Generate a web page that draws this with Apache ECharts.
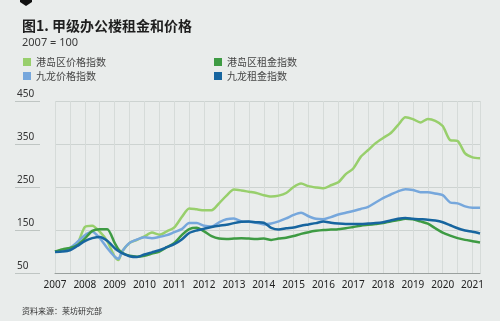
<!DOCTYPE html>
<html>
<head>
<meta charset="utf-8">
<script src="https://cdn.jsdelivr.net/npm/echarts@6/dist/echarts.min.js"></script>
<style>
html,body{margin:0;padding:0;background:#e9eceb;}
#c{width:500px;height:321px;}
</style>
</head>
<body>
<div id="c"></div>
<script>
// Time points (years, quarterly, with one extra point at the 2009 trough)
var years = [
  2007, 2007.25, 2007.5, 2007.75,
  2008, 2008.25, 2008.5, 2008.75,
  2009, 2009.125, 2009.25, 2009.5, 2009.75,
  2010, 2010.25, 2010.5, 2010.75,
  2011, 2011.25, 2011.5, 2011.75,
  2012, 2012.25, 2012.5, 2012.75,
  2013, 2013.25, 2013.5, 2013.75,
  2014, 2014.25, 2014.5, 2014.75,
  2015, 2015.25, 2015.5, 2015.75,
  2016, 2016.25, 2016.5, 2016.75,
  2017, 2017.25, 2017.5, 2017.75,
  2018, 2018.25, 2018.5, 2018.75,
  2019, 2019.25, 2019.5, 2019.75,
  2020, 2020.25, 2020.5, 2020.75,
  2021, 2021.25
];
// 港岛区价格指数
var hkPrice = [
  100, 105, 108, 118,
  157, 160, 146, 124,
  88, 80, 100, 120, 127,
  135, 144, 139, 147,
  156, 180, 200, 198,
  196, 196, 212, 230,
  244, 242, 239, 236,
  231, 228, 230, 236,
  250, 258, 252, 249,
  247, 254, 261, 280,
  293, 320, 336, 352,
  364, 375, 394, 412,
  408, 400, 408, 404,
  392, 359, 357, 328,
  319, 317
];
// 九龙价格指数
var klnPrice = [
  100, 102, 108, 122,
  138, 146, 131, 108,
  88, 83, 100, 120, 128,
  133, 131, 134, 138,
  145, 152, 166, 166,
  160, 158, 168, 175,
  177, 170, 169, 167,
  163, 165, 170, 177,
  185, 190, 182, 176,
  175, 180, 186, 190,
  194, 199, 204, 214,
  224, 232, 240, 245,
  243, 238, 238, 235,
  231, 214, 212, 205,
  202, 202
];
// 港岛区租金指数
var hkRent = [
  100, 105, 108, 115,
  130, 148, 152, 152,
  120, 105, 97, 90, 88,
  90, 95, 100, 110,
  120, 138, 152, 155,
  147, 136, 130, 129,
  130, 131, 130, 129,
  130, 127, 130, 132,
  136, 141, 145, 148,
  150, 151, 152, 154,
  157, 160, 162, 164,
  166, 170, 173, 176,
  175, 170, 165, 154,
  144, 137, 131, 127,
  124, 121
];
// 九龙租金指数
var klnRent = [
  99, 100, 103, 113,
  124, 131, 134, 125,
  108, 101, 96, 89, 87,
  93, 98, 103, 110,
  117, 128, 143, 149,
  153, 157, 160, 162,
  166, 169, 170, 168,
  167, 155, 151, 154,
  156, 160, 163, 166,
  170, 167, 165, 164,
  164, 164, 165, 166,
  168, 172, 176, 178,
  176, 175, 174, 172,
  168, 161, 154, 149,
  146, 142
];
var seriesNames = ['港岛区价格指数', '九龙价格指数', '港岛区租金指数', '九龙租金指数'];
var seriesColors = ['#98cf6c', '#76a7dc', '#3e9b43', '#17659f'];
var yTicks = { min: 50, max: 450, step: 100 };
var xRange = { min: 2007, max: 2021.25 };

function pairs(vals) {
  return years.map(function (y, i) { return [y, vals[i]]; });
}
var allVals = [hkPrice, klnPrice, hkRent, klnRent];

var chart = echarts.init(document.getElementById('c'), null, { renderer: 'canvas' });
var font = '"Noto Sans", "Noto Sans CJK SC", sans-serif';
var cjk = '"Noto Sans CJK SC", sans-serif';
var option = {
  backgroundColor: '#e9eceb',
  animation: false,
  textStyle: { fontFamily: font },
  title: [
    { text: '图1. 甲级办公楼租金和价格', left: 17, top: 14,
      textStyle: { fontSize: 14, fontWeight: 'bold', color: '#1e1e1e', fontFamily: cjk } },
    { text: '2007 = 100', left: 17, top: 32,
      textStyle: { fontSize: 11, fontWeight: 'normal', color: '#3a3a3a', fontFamily: font } },
    { text: '资料来源：莱坊研究部', left: 17, top: 302,
      textStyle: { fontSize: 8, fontWeight: 'normal', color: '#333', fontFamily: cjk } }
  ],
  legend: [
    { data: [seriesNames[0], seriesNames[1]], orient: 'vertical', left: 18, top: 51,
      icon: 'rect', itemWidth: 8, itemHeight: 8, itemGap: 2,
      textStyle: { fontSize: 10, color: '#444', lineHeight: 12, fontFamily: cjk } },
    { data: [seriesNames[2], seriesNames[3]], orient: 'vertical', left: 209, top: 51,
      icon: 'rect', itemWidth: 8, itemHeight: 8, itemGap: 2,
      textStyle: { fontSize: 10, color: '#444', lineHeight: 12, fontFamily: cjk } }
  ],
  graphic: [
    { type: 'polygon', shape: { points: [[20, 0], [32, 0], [32, 2], [26, 6], [20, 2]] },
      style: { fill: '#111' } }
  ],
  grid: [
    { left: 55, right: 20, top: 101, bottom: 48 },
    { left: 15, width: 25, top: 101, bottom: 48 }
  ],
  xAxis: [
    { type: 'value', gridIndex: 0, min: xRange.min, max: xRange.max, interval: 0.5,
      axisLine: { show: true, lineStyle: { color: '#9aa09e', width: 1 } },
      axisTick: { show: false },
      splitLine: { show: true, lineStyle: { color: '#d6dbd9', width: 1 } },
      axisLabel: { show: true, margin: 7, fontSize: 10, color: '#222', fontFamily: font,
        formatter: function (v) { return Math.abs(v - Math.round(v)) < 1e-6 ? String(Math.round(v)) : ''; } } },
    { type: 'value', gridIndex: 1, min: 0, max: 1, show: false }
  ],
  yAxis: [
    { type: 'value', gridIndex: 0, min: yTicks.min, max: yTicks.max, interval: yTicks.step,
      axisLine: { show: false }, axisTick: { show: false },
      splitLine: { show: true, lineStyle: { color: '#cdd3d1', width: 1 } },
      axisLabel: { show: true, align: 'left', margin: 38, verticalAlign: 'bottom', padding: [0, 0, 2, 0],
        fontSize: 10, color: '#333', fontFamily: font } },
    { type: 'value', gridIndex: 1, min: yTicks.min, max: yTicks.max, interval: yTicks.step,
      axisLine: { show: false }, axisTick: { show: false }, axisLabel: { show: false },
      splitLine: { show: true, lineStyle: { color: '#bfc5c3', width: 1 } } }
  ],
  series: seriesNames.map(function (n, i) {
    return {
      name: n, type: 'line', xAxisIndex: 0, yAxisIndex: 0,
      data: pairs(allVals[i]), showSymbol: false, smooth: 0.25,
      lineStyle: { width: 2.5, color: seriesColors[i] },
      itemStyle: { color: seriesColors[i] },
      z: [2, 3, 4, 5][i]
    };
  })
};
chart.setOption(option);
</script>
</body>
</html>
